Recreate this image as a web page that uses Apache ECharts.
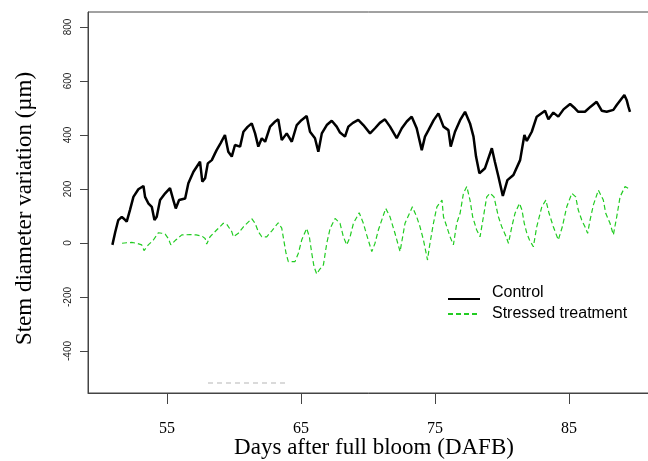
<!DOCTYPE html>
<html>
<head>
<meta charset="utf-8">
<script src="https://cdn.jsdelivr.net/npm/echarts@6/dist/echarts.min.js"></script>
<style>
  html, body { margin: 0; padding: 0; background: #fff; }
  #chart { width: 648px; height: 461px; }
</style>
</head>
<body>
<div id="chart"></div>
<script>
// Stem diameter variation (µm) against days after full bloom
const ctrlDays = [
  50.92, 51.13, 51.36, 51.62, 51.82, 51.99, 52.23, 52.49, 52.86, 53.24,
  53.36, 53.60, 53.86, 54.06, 54.23, 54.48, 54.86, 55.22, 55.47, 55.65,
  55.90, 56.35, 56.59, 56.97, 57.46, 57.63, 57.84, 58.04, 58.34, 58.58,
  58.70, 59.00, 59.32, 59.57, 59.83, 60.07, 60.45, 60.70, 61.01, 61.32,
  61.57, 61.81, 62.07, 62.32, 62.69, 63.02, 63.30, 63.56, 63.93, 64.31,
  64.68, 65.03, 65.42, 65.67, 66.04, 66.29, 66.55, 66.92, 67.29, 67.66,
  67.91, 68.28, 68.53, 68.87, 69.27, 69.65, 70.15, 70.52, 70.88, 71.26,
  71.64, 72.14, 72.52, 72.89, 73.26, 73.63, 74.01, 74.25, 74.51, 74.90,
  75.25, 75.63, 76.00, 76.17, 76.49, 76.87, 77.24, 77.61, 77.87, 78.06,
  78.31, 78.73, 79.24, 79.47, 79.73, 80.06, 80.40, 80.85, 81.35, 81.67,
  81.85, 82.22, 82.59, 83.21, 83.46, 83.83, 84.20, 84.59, 85.08, 85.44,
  85.69, 86.19, 86.61, 87.06, 87.44, 87.81, 88.31, 88.56, 89.13, 89.30,
  89.43, 89.55
];
const ctrlVals = [
  -7, 40, 85, 97, 88, 79, 122, 171, 199, 211,
  171, 147, 134, 85, 97, 159, 184, 203, 159, 128,
  159, 165, 221, 264, 301, 227, 240, 295, 307, 332,
  344, 370, 400, 338, 320, 363, 357, 412, 430, 443,
  406, 357, 388, 375, 431, 448, 458, 381, 406, 375,
  437, 455, 470, 412, 388, 338, 406, 437, 453, 431,
  409, 394, 431, 445, 456, 437, 406, 425, 445, 458,
  431, 388, 425, 450, 468, 425, 344, 394, 418, 455,
  480, 431, 418, 357, 412, 455, 486, 443, 394, 320,
  258, 277, 351, 300, 246, 174, 233, 252, 307, 400,
  378, 412, 468, 490, 458, 483, 468, 495, 515, 499,
  486, 486, 505, 523, 490, 486, 493, 511, 548, 530,
  505, 486
];
const stressDays = [
  51.64, 51.99, 52.37, 52.73, 53.11, 53.28, 53.60, 53.98, 54.35, 54.61,
  54.86, 55.09, 55.28, 55.60, 56.10, 56.71, 57.17, 57.59, 57.84, 57.96,
  58.21, 58.70, 59.20, 59.45, 59.83, 59.95, 60.32, 60.70, 61.32, 61.57,
  61.81, 62.07, 62.44, 62.82, 63.30, 63.56, 63.73, 63.88, 64.05, 64.18,
  64.55, 64.80, 65.05, 65.42, 65.62, 65.80, 65.97, 66.17, 66.36, 66.67,
  66.92, 67.17, 67.54, 67.91, 68.16, 68.41, 68.66, 68.91, 69.34, 69.65,
  69.90, 70.28, 70.52, 70.77, 71.32, 71.64, 72.01, 72.39, 72.76, 73.31,
  73.63, 73.88, 74.14, 74.44, 74.58, 74.88, 75.14, 75.52, 75.63, 75.88,
  76.12, 76.37, 76.62, 76.87, 77.12, 77.37, 77.61, 77.81, 78.11, 78.36,
  78.61, 78.86, 79.11, 79.40, 79.73, 79.98, 80.31, 80.48, 80.73, 80.97,
  81.30, 81.49, 81.66, 81.85, 82.05, 82.34, 82.59, 82.97, 83.27, 83.51,
  83.83, 84.20, 84.50, 84.83, 85.21, 85.50, 85.69, 85.95, 86.19, 86.39,
  86.57, 86.82, 87.19, 87.56, 87.74, 88.06, 88.31, 88.56, 88.81, 89.18,
  89.55
];
const stressVals = [
  -1, 1, 2, -1, -7, -28, -7, 11, 38, 36,
  33, 17, -7, 9, 30, 31, 30, 26, 17, -4,
  23, 48, 73, 70, 42, 23, 36, 60, 90, 73,
  42, 23, 23, 45, 75, 55, 5, -38, -69, -75,
  -69, -38, 11, 54, 23, -38, -88, -115, -100, -81,
  -1, 54, 91, 73, 23, -7, 23, 73, 112, 73,
  30, -32, -1, 48, 128, 97, 36, -32, 73, 134,
  97, 60, 10, -63, -14, 73, 134, 159, 97, 60,
  23, -7, 73, 110, 184, 209, 159, 97, 48, 23,
  97, 171, 184, 171, 97, 60, 23, -1, 60, 110,
  147, 122, 73, 36, 11, -14, 60, 134, 159, 110,
  60, 11, 60, 134, 184, 171, 122, 85, 60, 36,
  85, 141, 196, 159, 110, 73, 30, 97, 171, 209,
  199
];
const xTicks = [55, 65, 75, 85];
const yTicks = [-400, -200, 0, 200, 400, 600, 800];

const chart = echarts.init(document.getElementById('chart'), null, { renderer: 'canvas' });

const boxColor = '#444';
const legendText = { fontFamily: 'Liberation Sans', fontSize: 16, color: '#000' };

chart.setOption({
  animation: false,
  backgroundColor: '#fff',
  grid: {
    left: 88, top: 12, right: -12, bottom: 68,
    outerBoundsMode: 'none',
    containLabel: false,
    show: true, borderColor: boxColor, borderWidth: 1, backgroundColor: 'transparent'
  },
  xAxis: {
    type: 'value',
    min: 49.1, max: 91.79,
    name: 'Days after full bloom (DAFB)',
    nameLocation: 'middle',
    nameGap: 43,
    nameMoveOverlap: false,
    nameTextStyle: { fontFamily: 'Liberation Serif', fontSize: 23, color: '#000' },
    axisLine: { show: true, onZero: false, lineStyle: { color: boxColor, width: 1 } },
    axisTick: { show: true, length: 11, customValues: xTicks, lineStyle: { color: boxColor } },
    axisLabel: {
      customValues: xTicks, margin: 28,
      fontFamily: 'Liberation Serif', fontSize: 16, color: '#000'
    },
    splitLine: { show: false }
  },
  yAxis: {
    type: 'value',
    min: -555.6, max: 855.6,
    name: 'Stem diameter variation (µm)',
    nameLocation: 'middle',
    nameGap: 52,
    nameMoveOverlap: false,
    nameTextStyle: {
      fontFamily: 'Liberation Serif', fontSize: 23, color: '#000',
      padding: [0, 12, 0, 0]
    },
    axisLine: { show: true, onZero: false, lineStyle: { color: boxColor, width: 1 } },
    axisTick: { show: true, length: 8, customValues: yTicks, lineStyle: { color: boxColor } },
    axisLabel: {
      customValues: yTicks, rotate: 90, margin: 15,
      fontFamily: 'Liberation Sans', fontSize: 10, color: '#222'
    },
    splitLine: { show: false }
  },
  legend: [
    {
      data: ['Control'],
      left: 447, top: 285, padding: 0,
      itemWidth: 32, itemHeight: 14,
      itemStyle: { opacity: 0 },
      formatter: '{t|{name}}',
      textStyle: Object.assign({}, legendText, {
        rich: { t: Object.assign({}, legendText, { padding: [0, 0, 12, 7] }) }
      })
    },
    {
      data: ['Stressed treatment'],
      left: 447, top: 306, padding: 0,
      itemWidth: 32, itemHeight: 14,
      itemStyle: { opacity: 0 },
      formatter: '{t|{name}}',
      textStyle: Object.assign({}, legendText, {
        rich: { t: Object.assign({}, legendText, { padding: [0, 0, 0, 7] }) }
      })
    }
  ],
  graphic: [
    {
      type: 'line',
      shape: { x1: 208, y1: 383, x2: 285, y2: 383 },
      style: { stroke: '#b5b5b5', lineWidth: 1, lineDash: [5, 4] },
      silent: true
    }
  ],
  series: [
    {
      name: 'Control',
      type: 'line',
      symbol: 'none',
      data: ctrlDays.map((d, i) => [d, ctrlVals[i]]),
      lineStyle: { color: '#000', width: 2.5 },
      itemStyle: { color: '#000' }
    },
    {
      name: 'Stressed treatment',
      type: 'line',
      symbol: 'none',
      data: stressDays.map((d, i) => [d, stressVals[i]]),
      lineStyle: { color: '#22cc22', width: 1.2, type: [5, 3] },
      itemStyle: { color: '#22cc22' }
    }
  ]
});
</script>
</body>
</html>
